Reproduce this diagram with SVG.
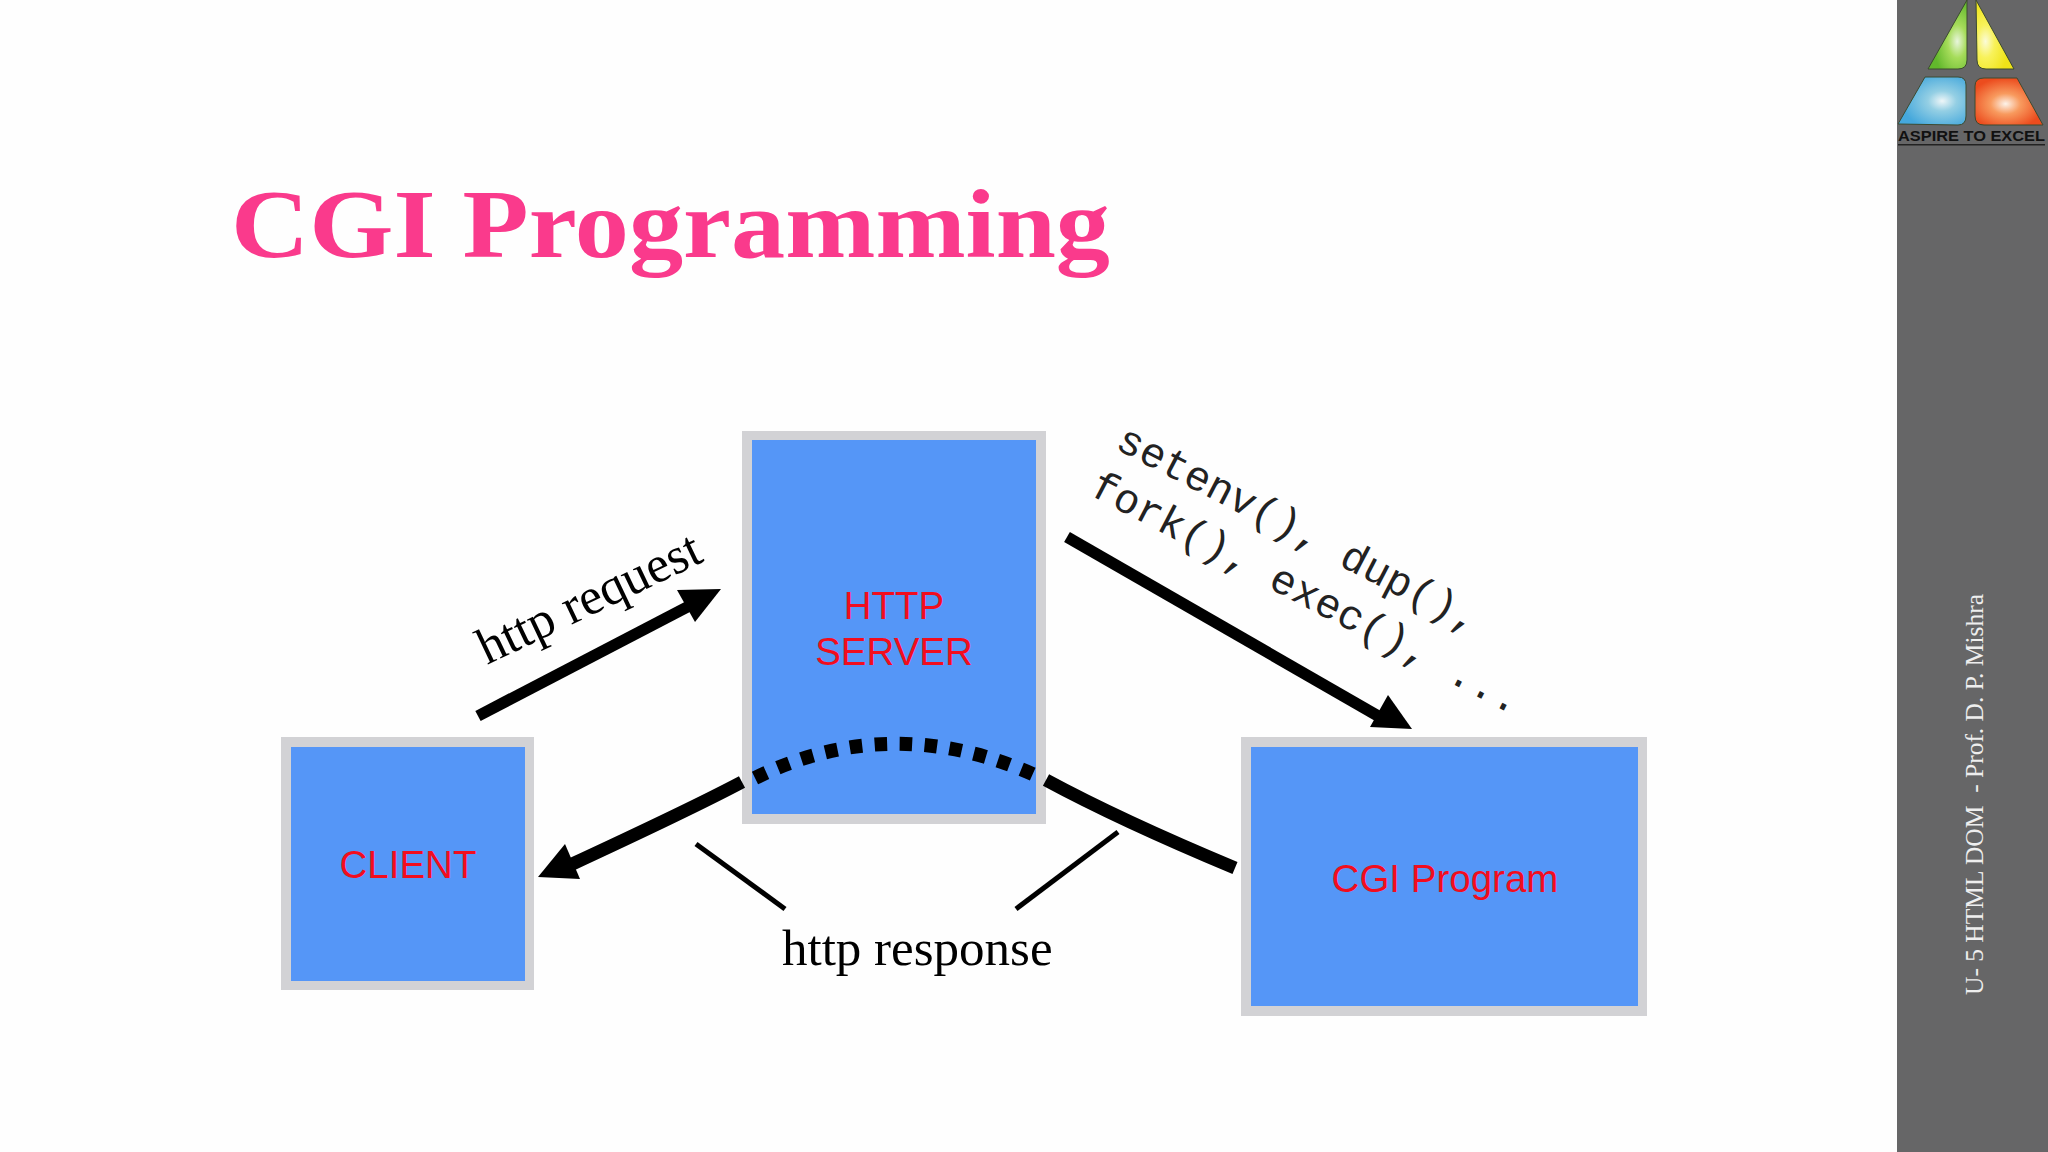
<svg xmlns="http://www.w3.org/2000/svg" width="2048" height="1152" viewBox="0 0 2048 1152">
<style>
.outer{fill:#d2d2d5}
.inner{fill:#5596f7}
.lbl{font-family:"Liberation Sans",Arial,sans-serif;font-size:38.5px;fill:#f20d1e;text-anchor:middle}
.serif{font-family:"Liberation Serif","Times New Roman",serif;fill:#000}
.mono{font-family:"Liberation Mono","Courier New",monospace;font-size:42px;fill:#222;white-space:pre}
.thick{fill:none;stroke:#000;stroke-width:11.5}
.thin{fill:none;stroke:#000;stroke-width:5}
</style>
<defs>
<radialGradient id="gG" cx="0.75" cy="0.6" r="0.6"><stop offset="0" stop-color="#e8f5dc"/><stop offset="0.4" stop-color="#a6dc5a"/><stop offset="1" stop-color="#62b82c"/></radialGradient>
<radialGradient id="gY" cx="0.25" cy="0.6" r="0.6"><stop offset="0" stop-color="#fbfbd8"/><stop offset="0.4" stop-color="#f8f25a"/><stop offset="1" stop-color="#efe318"/></radialGradient>
<radialGradient id="gB" cx="0.65" cy="0.5" r="0.6"><stop offset="0" stop-color="#eef6f8"/><stop offset="0.35" stop-color="#94cfe4"/><stop offset="1" stop-color="#45a8dc"/></radialGradient>
<radialGradient id="gO" cx="0.45" cy="0.55" r="0.55"><stop offset="0" stop-color="#fdf3ea"/><stop offset="0.4" stop-color="#f89a5e"/><stop offset="1" stop-color="#ec4c1e"/></radialGradient>
</defs>
<rect width="2048" height="1152" fill="#fefefe"/>
<rect id="sidebar" x="1897" y="0" width="151" height="1152" fill="#666667"/>
<g id="logo" stroke="#3c4a30" stroke-width="1" stroke-linejoin="round">
<path d="M1967 0L1928 69H1958Q1967 69 1967 60Z" fill="url(#gG)"/>
<path d="M1976 0L2014 69H1986Q1977 69 1977 60Z" fill="url(#gY)"/>
<path d="M1925 77H1958Q1966 77 1966 85V116Q1966 125 1958 125L1898 124Z" fill="url(#gB)"/>
<path d="M1984 78H2017L2043 125H1984Q1975 125 1975 116V86Q1975 78 1984 78Z" fill="url(#gO)"/>
<text x="1898" y="141" font-family="'Liberation Sans',Arial,sans-serif" font-weight="700" font-size="15.5" fill="#111" stroke="none" textLength="147" lengthAdjust="spacingAndGlyphs">ASPIRE TO EXCEL</text>
<rect x="1898" y="144" width="147" height="1.5" fill="#222" stroke="none"/>
</g>
<text id="sidetext" transform="translate(1983 995) rotate(-90)" class="serif" font-size="25" style="fill:#eee;white-space:pre" textLength="401" lengthAdjust="spacingAndGlyphs">U- 5 HTML DOM  - Prof. D. P. Mishra</text>
<text id="title" x="231" y="257" font-family="'Liberation Serif','Times New Roman',serif" font-weight="700" font-size="98" fill="#fa3a8c" textLength="879" lengthAdjust="spacingAndGlyphs">CGI Programming</text>

<g id="client"><rect class="outer" x="281" y="737" width="253" height="253"/><rect class="inner" x="291" y="747" width="234" height="234"/><text class="lbl" x="408" y="878">CLIENT</text></g>
<g id="http-server"><rect class="outer" x="742" y="431" width="304" height="393"/><rect class="inner" x="752" y="440" width="284" height="374"/><text class="lbl" x="894" y="619">HTTP</text><text class="lbl" x="894" y="665">SERVER</text></g>
<g id="cgi-program"><rect class="outer" x="1241" y="737" width="406" height="279"/><rect class="inner" x="1251" y="747" width="387" height="259"/><text class="lbl" x="1445" y="892">CGI Program</text></g>

<g id="connectors">
<path class="thick" d="M478 716L693 604"/>
<path d="M721 589L695 622L677 590Z" fill="#000"/>
<path class="thick" d="M1067 537L1385 720"/>
<path d="M1412 729L1370 727L1388 695Z" fill="#000"/>
<path class="thick" style="stroke-width:13" d="M742 782C708 800 650 828 568 866"/>
<path d="M538 877L565 844L580 879Z" fill="#000"/>
<path class="thick" style="stroke-width:13" d="M1046 780Q1120 820 1235 868"/>
<path class="thick" style="stroke-width:14;stroke-dasharray:12.5 12.5" d="M755 778Q894 710 1039 777"/>
<path class="thin" d="M696 844L785 909"/>
<path class="thin" d="M1118 832L1016 909"/>
</g>
<g id="labels">
<text class="serif" font-size="51.5" transform="translate(487 665) rotate(-25.5)">http request</text>
<text class="serif" font-size="51" x="782" y="965">http response</text>
<text class="mono" transform="translate(1114 448) rotate(27.5)">setenv(), dup(),</text>
<text class="mono" transform="translate(1088 494) rotate(27.5)">fork(), exec(), ...</text>
</g>
</svg>
